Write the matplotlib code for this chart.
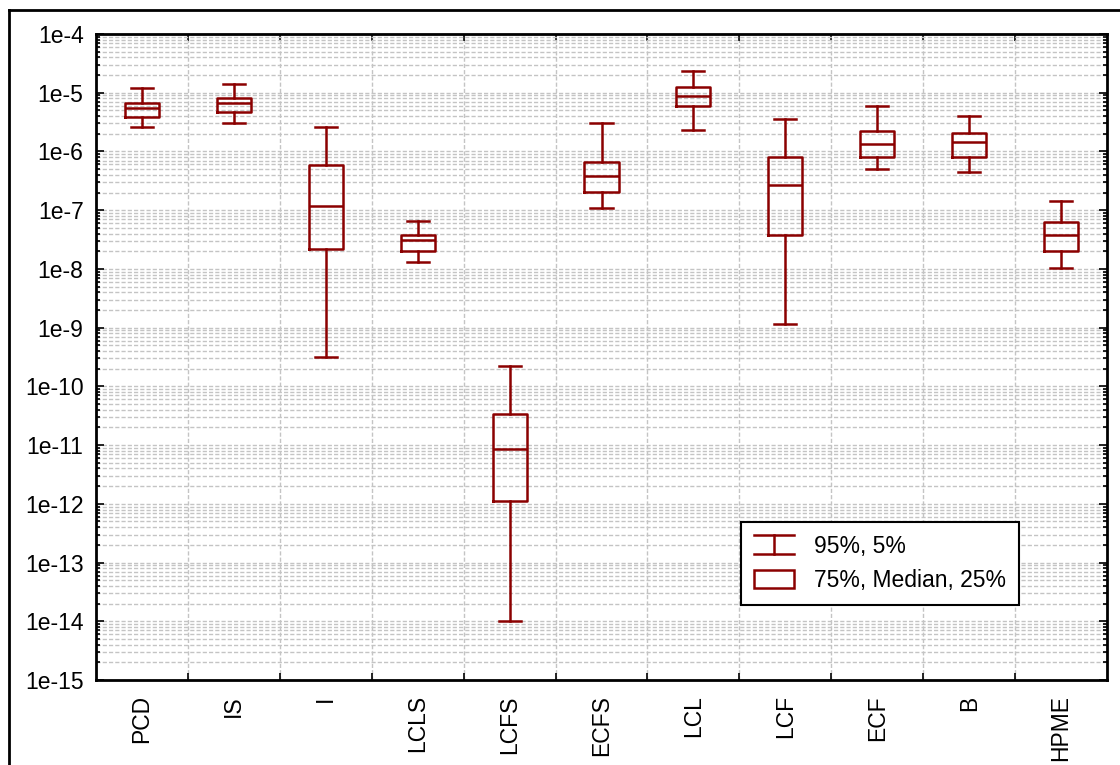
import matplotlib
matplotlib.use("Agg")
import matplotlib.pyplot as plt
from matplotlib.legend_handler import HandlerBase
from matplotlib.lines import Line2D
from matplotlib.patches import Patch
from matplotlib.ticker import LogLocator, NullFormatter, FixedLocator

plt.rcParams['font.family'] = ['Liberation Sans', 'DejaVu Sans']

CATEGORIES = ["PCD", "IS", "I", "LCLS", "LCFS", "ECFS", "LCL", "LCF", "ECF", "B", "HPME"]
P05 = [2.6e-6, 3.05e-6, 3.2e-10, 1.31e-8, 1.0e-14, 1.08e-7, 2.32e-6, 1.14e-9, 5.0e-7, 4.5e-7, 1.05e-8]
P25 = [3.9e-6, 4.7e-6, 2.2e-8, 2.02e-8, 1.13e-12, 2.06e-7, 5.94e-6, 3.78e-8, 8.1e-7, 8.1e-7, 2.02e-8]
MEDIAN = [5.5e-6, 6.7e-6, 1.18e-7, 3.1e-8, 8.5e-12, 3.82e-7, 8.9e-6, 2.65e-7, 1.35e-6, 1.45e-6, 3.83e-8]
P75 = [6.7e-6, 8.1e-6, 5.9e-7, 3.83e-8, 3.4e-11, 6.6e-7, 1.27e-5, 8.1e-7, 2.2e-6, 2.04e-6, 6.2e-8]
P95 = [1.2e-5, 1.41e-5, 2.6e-6, 6.6e-8, 2.25e-10, 3.01e-6, 2.32e-5, 3.57e-6, 6.0e-6, 4.0e-6, 1.43e-7]

COLOR = "#8B0000"
LW = 1.8
FS = 16.5


class WhiskerHandler(HandlerBase):
    def create_artists(self, legend, orig_handle, xdescent, ydescent,
                       width, height, fontsize, trans):
        x0, x1 = -xdescent, -xdescent + width
        y0, y1 = -ydescent, -ydescent + height
        xm = x0 + width / 2
        parts = [Line2D([x0, x1], [y1, y1]),
                 Line2D([x0, x1], [y0, y0]),
                 Line2D([xm, xm], [y0, y1])]
        for p in parts:
            p.set_color(COLOR)
            p.set_linewidth(LW)
            p.set_transform(trans)
        return parts


fig = plt.figure(figsize=(11.2, 7.65), dpi=100)
ax = fig.add_axes([96 / 1120, 1 - 680 / 765, (1107 - 96) / 1120, (680 - 34) / 765])

stats = []
for name, lo, q1, med, q3, hi in zip(CATEGORIES, P05, P25, MEDIAN, P75, P95):
    stats.append(dict(label=name, whislo=lo, q1=q1, med=med, q3=q3, whishi=hi, fliers=[]))

props = dict(color=COLOR, linewidth=LW)
ax.bxp(stats, positions=range(len(CATEGORIES)), widths=0.37, capwidths=0.24,
       showfliers=False, boxprops=props, whiskerprops=props, capprops=props,
       medianprops=props, zorder=3)

ax.set_yscale("log")
ax.set_ylim(1e-15, 1e-4)
ax.set_xlim(-0.5, len(CATEGORIES) - 0.5)

major = [10.0 ** e for e in range(-15, -3)]
ax.yaxis.set_major_locator(FixedLocator(major))
ax.set_yticklabels([f"1e{e}" for e in range(-15, -3)])
ax.yaxis.set_minor_locator(LogLocator(base=10, subs=range(2, 10), numticks=100))
ax.yaxis.set_minor_formatter(NullFormatter())

ax.set_xticks([i + 0.5 for i in range(len(CATEGORIES) - 1)])
ax.set_xticklabels([])
ax.set_xticks(range(len(CATEGORIES)), minor=True)
ax.set_xticklabels(CATEGORIES, minor=True, rotation=90)

ax.tick_params(axis="both", which="both", direction="in", top=True, right=True,
               labelsize=FS, colors="black", width=1.2)
ax.tick_params(axis="y", which="major", length=6, pad=9)
ax.tick_params(axis="y", which="minor", length=3)
ax.tick_params(axis="x", which="major", length=5)
ax.tick_params(axis="x", which="minor", length=0, pad=11)

ax.grid(True, which="major", axis="x", color="#c4c4c4", linestyle=(0, (3, 1.5)), linewidth=1)
ax.grid(True, which="both", axis="y", color="#c4c4c4", linestyle=(0, (3, 1.5)), linewidth=1)
ax.set_axisbelow(True)
for sp in ax.spines.values():
    sp.set_linewidth(2)

handles = [Line2D([], [], color=COLOR), Patch(facecolor="white", edgecolor=COLOR, linewidth=LW)]
leg = ax.legend(handles, ["95%, 5%", "75%, Median, 25%"],
                handler_map={Line2D: WhiskerHandler()},
                loc="upper left", bbox_to_anchor=(0.638, 0.2446), borderaxespad=0,
                fontsize=FS, fancybox=False, framealpha=1, edgecolor="black",
                handlelength=1.75, handleheight=0.87, labelspacing=0.5,
                borderpad=0.55, handletextpad=0.9)
leg.get_frame().set_linewidth(1.5)
leg.set_zorder(5)

# outer frame, cut off at the right and bottom like the original
fig.add_artist(Line2D([9 / 1120, 9 / 1120], [0, 1 - 10 / 765], color="black", linewidth=2))
fig.add_artist(Line2D([9 / 1120, 1], [1 - 10 / 765, 1 - 10 / 765], color="black", linewidth=2))

fig.savefig("out.png", dpi=100)
